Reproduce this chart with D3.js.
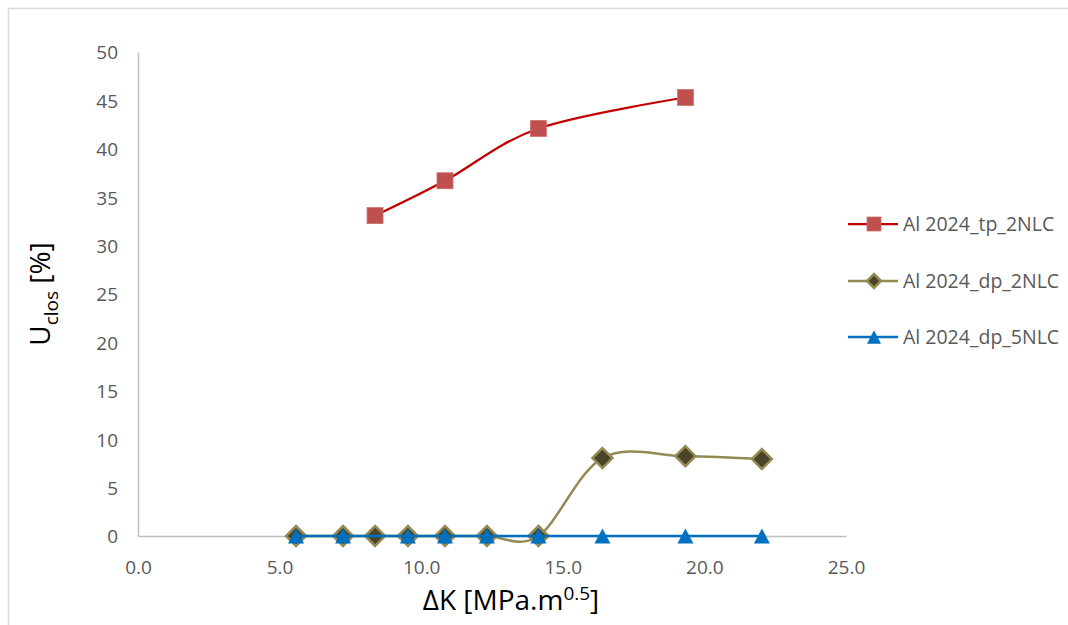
<!DOCTYPE html>
<html>
<head>
<meta charset="utf-8">
<script src="https://cdn.jsdelivr.net/npm/d3@7"></script>
<style>
  html, body { margin: 0; padding: 0; background: #fff; }
  svg { display: block; }
  text { font-family: "Open Sans", "Noto Sans", sans-serif; }
</style>
</head>
<body>
<div id="chart"></div>
<script>
// Crack closure U_clos [%] versus stress-intensity range ΔK for Al 2024
const xTicks = [0, 5, 10, 15, 20, 25];
const yTicks = [0, 5, 10, 15, 20, 25, 30, 35, 40, 45, 50];

const seriesNames = ["Al 2024_tp_2NLC", "Al 2024_dp_2NLC", "Al 2024_dp_5NLC"];

const dkTp2 = [8.37, 10.84, 14.14, 19.33];
const uTp2  = [33.1, 36.7, 42.1, 45.3];

const dkDp2 = [5.58, 7.24, 8.37, 9.53, 10.84, 12.32, 14.14, 16.4, 19.33, 22.03];
const uDp2  = [0, 0, 0, 0, 0, 0, 0, 8.05, 8.25, 7.95];

const dkDp5 = [5.58, 7.24, 9.53, 10.84, 12.32, 14.14, 16.4, 19.33, 22.03];
const uDp5  = [0, 0, 0, 0, 0, 0, 0, 0, 0];

const W = 1068, H = 625;
const plot = { left: 138, right: 846, top: 52, bottom: 536 };

const svg = d3.select("#chart").append("svg")
  .attr("width", W).attr("height", H);

// chart frame
svg.append("rect")
  .attr("x", 8.5).attr("y", 8.5)
  .attr("width", W).attr("height", H)
  .attr("fill", "#fff")
  .attr("stroke", "#D9D9D9").attr("stroke-width", 1.5);

const x = d3.scaleLinear().domain([0, 25]).range([plot.left, plot.right]);
const y = d3.scaleLinear().domain([0, 50]).range([plot.bottom, plot.top]);

// axes
const xAxis = svg.append("g")
  .attr("transform", `translate(0,${plot.bottom})`)
  .call(d3.axisBottom(x).tickValues(xTicks).tickFormat(d3.format(".1f")).tickSize(0).tickPadding(0));
xAxis.select(".domain").attr("stroke", "#BFBFBF").attr("stroke-width", 1.5);
xAxis.selectAll(".tick text")
  .attr("y", 38).attr("dy", null)
  .attr("fill", "#595959").attr("font-size", 19);

const yAxis = svg.append("g")
  .attr("transform", `translate(${plot.left},0)`)
  .call(d3.axisLeft(y).tickValues(yTicks).tickSize(0).tickPadding(0));
yAxis.select(".domain").attr("stroke", "#BFBFBF").attr("stroke-width", 1.5);
yAxis.selectAll(".tick text")
  .attr("x", -20).attr("dy", "0.36em")
  .attr("fill", "#595959").attr("font-size", 19);

// axis titles
const xt = svg.append("text")
  .attr("x", 511).attr("y", 610)
  .attr("text-anchor", "middle")
  .attr("fill", "#000").attr("font-size", 28);
xt.append("tspan").text("ΔK [MPa.m");
xt.append("tspan").attr("dy", -10).attr("font-size", 19).text("0.5");
xt.append("tspan").attr("dy", 10).text("]");

const yt = svg.append("text")
  .attr("transform", "translate(50,294) rotate(-90)")
  .attr("text-anchor", "middle")
  .attr("fill", "#000").attr("font-size", 28);
yt.append("tspan").text("U");
yt.append("tspan").attr("dy", 8).attr("font-size", 19).text("clos");
yt.append("tspan").attr("dy", -8).text(" [%]");

const line = d3.line()
  .x(d => x(d[0])).y(d => y(d[1]))
  .curve(d3.curveCardinal.tension(0));

const styles = [
  { line: "#C00000", width: 2.25, fill: "#C0504D", stroke: "#C0504D", shape: "square" },
  { line: "#948A54", width: 2.5,  fill: "#4A4528", stroke: "#948A54", shape: "diamond" },
  { line: "#0070C0", width: 2.5,  fill: "#0070C0", stroke: "#0070C0", shape: "triangle" }
];
const data = [
  d3.zip(dkTp2, uTp2),
  d3.zip(dkDp2, uDp2),
  d3.zip(dkDp5, uDp5)
];

function marker(g, shape, s, st) {
  if (shape === "square") {
    g.append("rect").attr("x", -s / 2).attr("y", -s / 2)
      .attr("width", s).attr("height", s)
      .attr("fill", st.fill).attr("stroke", "#CD6F6C").attr("stroke-width", 0.75);
  } else if (shape === "diamond") {
    const r = s / 2;
    g.append("path").attr("d", `M0,${-r}L${r},0L0,${r}L${-r},0Z`)
      .attr("fill", st.fill).attr("stroke", st.stroke).attr("stroke-width", 2.5);
  } else {
    const w = s, h = s * 0.95;
    g.append("path").attr("d", `M0,${-h / 2}L${w / 2},${h / 2}L${-w / 2},${h / 2}Z`)
      .attr("fill", st.fill);
  }
}

const sizes = { square: 16, diamond: 20, triangle: 16 };

data.forEach((pts, i) => {
  const st = styles[i];
  svg.append("path").datum(pts)
    .attr("d", line)
    .attr("fill", "none")
    .attr("stroke", st.line).attr("stroke-width", st.width);
  pts.forEach(p => {
    const g = svg.append("g").attr("transform", `translate(${x(p[0])},${y(p[1])})`);
    marker(g, st.shape, sizes[st.shape], st);
  });
});

// legend
const legendY = [224, 281, 337];
seriesNames.forEach((name, i) => {
  const st = styles[i];
  const g = svg.append("g").attr("transform", `translate(0,${legendY[i]})`);
  g.append("line").attr("x1", 848).attr("x2", 898).attr("y1", 0).attr("y2", 0)
    .attr("stroke", st.line).attr("stroke-width", st.width);
  const m = g.append("g").attr("transform", "translate(874,0)");
  marker(m, st.shape, 14, st);
  g.append("text").attr("x", 903).attr("y", 0).attr("dy", "0.36em")
    .attr("fill", "#595959").attr("font-size", 19.5).text(name);
});
</script>
</body>
</html>
